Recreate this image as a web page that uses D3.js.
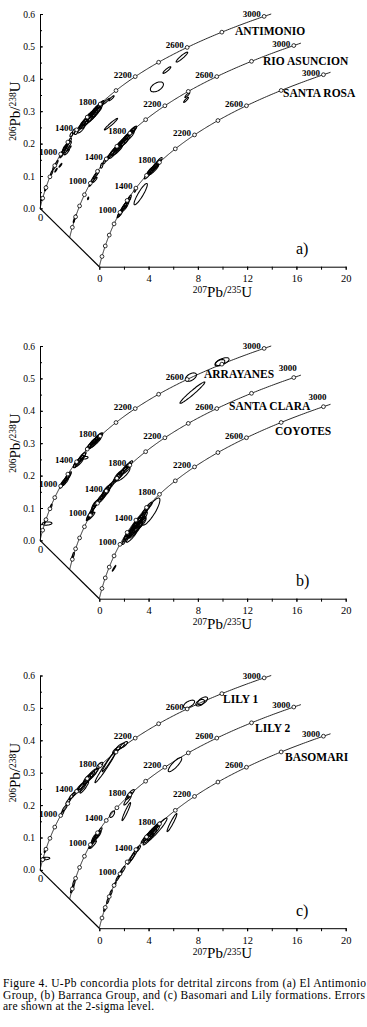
<!DOCTYPE html>
<html>
<head>
<meta charset="utf-8">
<script src="https://cdn.jsdelivr.net/npm/d3@7"></script>
<style>
  body { margin: 0; background: #fff; }
  svg { display: block; }
  .tick text { font-family: "Liberation Serif", "Times New Roman", serif; }
</style>
</head>
<body>
<div id="chart"></div>
<script>
// ---- data -------------------------------------------------------------
const panelLetters = ["a)", "b)", "c)"];
const panelSamples = [
  ["ANTIMONIO", "RIO ASUNCION", "SANTA ROSA"],
  ["ARRAYANES", "SANTA CLARA", "COYOTES"],
  ["LILY 1", "LILY 2", "BASOMARI"]
];
const markerAges = [200, 400, 600, 800, 1000, 1200, 1400, 1600, 1800, 2000, 2200, 2400, 2600, 2800, 3000];
const labelAges = [1000, 1400, 1800, 2200, 2600, 3000];
const xTicks = [0, 4, 8, 12, 16, 20];
const yTicks = [0, 0.1, 0.2, 0.3, 0.4, 0.5, 0.6];
const captionLines = [
  "Figure 4. U-Pb concordia plots for detrital zircons from (a) El Antimonio",
  "Group, (b) Barranca Group, and (c) Basomari and Lily formations. Errors",
  "are shown at the 2-sigma level."
];

// ellipses: [207Pb/235U, 206Pb/238U, 2s err 207/235, 2s err 206/238, rho]
const antimonio = [
  [3.25, 0.250, 0.22, 0.011, 0.85], [3.45, 0.258, 0.25, 0.012, 0.85], [3.55, 0.266, 0.30, 0.012, 0.88],
  [3.70, 0.272, 0.28, 0.012, 0.85], [3.90, 0.280, 0.35, 0.014, 0.90], [4.05, 0.288, 0.30, 0.012, 0.85],
  [4.20, 0.292, 0.40, 0.016, 0.90], [4.40, 0.300, 0.30, 0.013, 0.88], [4.55, 0.308, 0.35, 0.014, 0.90],
  [4.70, 0.312, 0.30, 0.012, 0.85], [4.85, 0.318, 0.28, 0.012, 0.85], [4.95, 0.322, 0.25, 0.011, 0.85],
  [4.10, 0.276, 0.45, 0.016, 0.92], [4.60, 0.298, 0.40, 0.015, 0.90], [5.35, 0.330, 0.30, 0.010, 0.95],
  [5.80, 0.340, 0.22, 0.008, 0.90], [2.75, 0.238, 0.12, 0.007, 0.60], [2.95, 0.236, 0.15, 0.008, 0.60],
  [2.55, 0.228, 0.12, 0.007, 0.60], [1.75, 0.165, 0.15, 0.009, 0.80], [1.95, 0.180, 0.18, 0.010, 0.85],
  [2.10, 0.190, 0.20, 0.011, 0.85], [2.25, 0.200, 0.18, 0.010, 0.85], [2.40, 0.208, 0.15, 0.009, 0.80],
  [2.19, 0.174, 0.20, 0.009, 0.90], [2.35, 0.185, 0.18, 0.008, 0.92], [0.95, 0.110, 0.10, 0.008, 0.80],
  [1.15, 0.128, 0.12, 0.009, 0.80], [1.35, 0.140, 0.12, 0.008, 0.85], [1.66, 0.133, 0.12, 0.006, 0.90],
  [1.30, 0.118, 0.10, 0.006, 0.90], [0.15, 0.030, 0.05, 0.006, 0.50], [0.45, 0.062, 0.08, 0.008, 0.60],
  [11.52, 0.467, 0.47, 0.0154, 0.93], [10.3, 0.427, 0.32, 0.0103, 0.90], [9.49, 0.375, 0.53, 0.0154, 0.50],
  [5.76, 0.260, 0.54, 0.018, 0.97], [3.60, 0.262, 0.35, 0.016, 0.80], [3.85, 0.272, 0.40, 0.017, 0.80],
  [4.25, 0.286, 0.45, 0.018, 0.82], [4.50, 0.296, 0.40, 0.017, 0.80], [4.75, 0.310, 0.35, 0.015, 0.80],
  [3.35, 0.246, 0.30, 0.013, 0.80], [4.00, 0.284, 0.25, 0.010, 0.70], [1.85, 0.172, 0.20, 0.011, 0.80],
  [2.00, 0.186, 0.15, 0.009, 0.70], [2.30, 0.195, 0.25, 0.012, 0.85]
];
const rioAsuncion = [
  [3.40, 0.258, 0.25, 0.011, 0.85], [3.60, 0.268, 0.30, 0.012, 0.88], [3.80, 0.276, 0.30, 0.012, 0.85],
  [4.00, 0.286, 0.35, 0.014, 0.90], [4.20, 0.294, 0.30, 0.012, 0.88], [4.40, 0.302, 0.35, 0.014, 0.90],
  [4.60, 0.310, 0.30, 0.013, 0.85], [4.80, 0.318, 0.30, 0.012, 0.88], [5.00, 0.326, 0.30, 0.012, 0.85],
  [5.20, 0.334, 0.25, 0.010, 0.85], [4.30, 0.290, 0.45, 0.016, 0.92], [3.90, 0.270, 0.40, 0.015, 0.90],
  [2.60, 0.222, 0.10, 0.008, 0.50], [2.85, 0.236, 0.15, 0.009, 0.80], [3.10, 0.246, 0.20, 0.010, 0.85],
  [1.70, 0.166, 0.12, 0.008, 0.80], [1.90, 0.180, 0.18, 0.010, 0.85], [2.10, 0.192, 0.20, 0.010, 0.85],
  [2.25, 0.200, 0.15, 0.008, 0.80], [2.05, 0.178, 0.18, 0.008, 0.90], [1.50, 0.121, 0.05, 0.004, 0.50],
  [0.45, 0.063, 0.08, 0.007, 0.70], [0.35, 0.052, 0.06, 0.006, 0.70], [9.55, 0.440, 0.20, 0.008, 0.90],
  [9.45, 0.425, 0.20, 0.008, 0.90], [3.50, 0.260, 0.35, 0.016, 0.80], [3.75, 0.270, 0.40, 0.017, 0.82],
  [4.10, 0.285, 0.40, 0.017, 0.82], [4.50, 0.300, 0.40, 0.017, 0.80], [4.90, 0.316, 0.35, 0.015, 0.80],
  [5.10, 0.330, 0.30, 0.012, 0.80]
];
const santaRosa = [
  [1.60, 0.160, 0.15, 0.009, 0.85], [1.75, 0.170, 0.18, 0.010, 0.85], [1.90, 0.180, 0.20, 0.011, 0.88],
  [2.05, 0.188, 0.20, 0.010, 0.85], [2.20, 0.196, 0.22, 0.011, 0.88], [2.35, 0.204, 0.20, 0.010, 0.85],
  [2.45, 0.212, 0.15, 0.009, 0.80], [2.00, 0.178, 0.25, 0.010, 0.92], [2.90, 0.237, 0.08, 0.007, 0.50],
  [3.36, 0.224, 0.54, 0.033, 0.90], [3.90, 0.282, 0.25, 0.011, 0.85], [4.10, 0.292, 0.30, 0.012, 0.88],
  [4.30, 0.300, 0.30, 0.012, 0.88], [4.50, 0.308, 0.30, 0.012, 0.85], [4.70, 0.318, 0.30, 0.012, 0.88],
  [4.85, 0.326, 0.25, 0.011, 0.85], [4.40, 0.298, 0.40, 0.015, 0.92], [1.70, 0.165, 0.20, 0.011, 0.80],
  [2.15, 0.190, 0.25, 0.012, 0.80], [4.20, 0.296, 0.35, 0.015, 0.82], [4.60, 0.312, 0.35, 0.015, 0.82]
];
const arrayanes = [
  [4.00, 0.290, 0.30, 0.012, 0.88], [4.20, 0.298, 0.35, 0.013, 0.90], [4.40, 0.306, 0.30, 0.012, 0.85],
  [4.60, 0.312, 0.40, 0.015, 0.90], [4.80, 0.320, 0.30, 0.012, 0.85], [4.50, 0.302, 0.45, 0.016, 0.92],
  [2.90, 0.235, 0.20, 0.010, 0.85], [3.10, 0.244, 0.25, 0.011, 0.85], [3.30, 0.252, 0.25, 0.011, 0.88],
  [3.50, 0.262, 0.25, 0.011, 0.85], [3.20, 0.240, 0.30, 0.012, 0.90], [3.65, 0.255, 0.25, 0.004, 0.30],
  [1.75, 0.170, 0.15, 0.009, 0.80], [1.95, 0.182, 0.20, 0.010, 0.85], [2.15, 0.192, 0.22, 0.011, 0.88],
  [2.35, 0.202, 0.20, 0.010, 0.85], [2.05, 0.180, 0.25, 0.011, 0.90], [0.57, 0.052, 0.40, 0.005, 0.20],
  [0.40, 0.060, 0.05, 0.008, 0.60], [0.90, 0.105, 0.08, 0.007, 0.70], [14.8, 0.552, 0.55, 0.012, 0.60],
  [14.6, 0.548, 0.40, 0.010, 0.50], [12.25, 0.504, 0.45, 0.013, 0.50], [12.37, 0.456, 1.01, 0.033, 0.97],
  [4.30, 0.300, 0.40, 0.017, 0.82], [4.70, 0.316, 0.35, 0.015, 0.80], [3.00, 0.238, 0.30, 0.014, 0.80],
  [3.40, 0.256, 0.30, 0.014, 0.80], [1.90, 0.178, 0.25, 0.012, 0.80], [2.25, 0.196, 0.25, 0.012, 0.80]
];
const santaClara = [
  [1.50, 0.160, 0.15, 0.009, 0.85], [1.70, 0.172, 0.20, 0.011, 0.88], [1.85, 0.185, 0.22, 0.012, 0.90],
  [2.00, 0.196, 0.22, 0.012, 0.88], [2.15, 0.206, 0.20, 0.011, 0.88], [1.75, 0.165, 0.30, 0.012, 0.92],
  [2.45, 0.215, 0.25, 0.012, 0.88], [2.70, 0.228, 0.25, 0.012, 0.88], [2.90, 0.240, 0.30, 0.014, 0.90],
  [3.10, 0.250, 0.30, 0.013, 0.88], [3.30, 0.258, 0.30, 0.013, 0.88], [2.85, 0.232, 0.40, 0.016, 0.92],
  [3.70, 0.275, 0.30, 0.012, 0.88], [3.90, 0.285, 0.35, 0.014, 0.90], [4.10, 0.292, 0.35, 0.014, 0.88],
  [4.40, 0.305, 0.35, 0.014, 0.90], [4.65, 0.318, 0.30, 0.012, 0.88], [4.85, 0.325, 0.25, 0.011, 0.85],
  [4.30, 0.295, 0.60, 0.022, 0.80], [0.20, 0.035, 0.06, 0.008, 0.60], [0.30, 0.045, 0.08, 0.008, 0.60],
  [1.65, 0.168, 0.25, 0.013, 0.80], [2.05, 0.200, 0.25, 0.013, 0.80], [2.60, 0.222, 0.35, 0.016, 0.82],
  [3.00, 0.245, 0.35, 0.016, 0.82], [4.00, 0.290, 0.40, 0.017, 0.82], [4.55, 0.310, 0.40, 0.016, 0.80]
];
const coyotes = [
  [2.10, 0.185, 0.20, 0.010, 0.85], [2.30, 0.196, 0.25, 0.012, 0.88], [2.50, 0.205, 0.30, 0.013, 0.90],
  [2.70, 0.215, 0.30, 0.013, 0.90], [2.90, 0.225, 0.35, 0.014, 0.90], [3.05, 0.235, 0.35, 0.015, 0.90],
  [3.20, 0.244, 0.30, 0.013, 0.88], [3.40, 0.252, 0.35, 0.015, 0.90], [3.60, 0.262, 0.30, 0.013, 0.88],
  [2.60, 0.190, 0.40, 0.016, 0.92], [2.85, 0.205, 0.45, 0.018, 0.92], [3.10, 0.220, 0.40, 0.016, 0.90],
  [3.35, 0.235, 0.45, 0.018, 0.90], [3.80, 0.275, 0.30, 0.012, 0.88], [4.00, 0.285, 0.30, 0.013, 0.88],
  [4.19, 0.269, 0.73, 0.042, 0.85], [2.00, 0.175, 0.15, 0.008, 0.80], [1.20, 0.094, 0.15, 0.009, 0.95],
  [2.40, 0.200, 0.40, 0.018, 0.85], [2.75, 0.210, 0.50, 0.020, 0.88], [3.00, 0.230, 0.45, 0.020, 0.85],
  [3.25, 0.240, 0.45, 0.020, 0.85], [3.50, 0.250, 0.40, 0.018, 0.85], [2.95, 0.215, 0.55, 0.022, 0.90],
  [3.30, 0.228, 0.50, 0.020, 0.90], [2.55, 0.200, 0.30, 0.012, 0.75]
];
const lily1 = [
  [12.1, 0.512, 0.45, 0.012, 0.60], [13.2, 0.522, 0.40, 0.012, 0.60], [13.0, 0.516, 0.35, 0.010, 0.50],
  [6.20, 0.370, 0.30, 0.010, 0.80], [6.50, 0.380, 0.35, 0.011, 0.80], [6.80, 0.386, 0.30, 0.010, 0.80],
  [5.35, 0.320, 0.89, 0.051, 0.98], [5.65, 0.338, 0.60, 0.035, 0.98], [4.85, 0.322, 0.25, 0.010, 0.70],
  [4.40, 0.300, 0.35, 0.014, 0.90], [4.10, 0.290, 0.35, 0.015, 0.90], [3.80, 0.278, 0.30, 0.013, 0.88],
  [3.50, 0.262, 0.35, 0.014, 0.90], [3.25, 0.255, 0.30, 0.013, 0.88], [3.60, 0.255, 0.35, 0.018, 0.92],
  [2.90, 0.240, 0.25, 0.011, 0.85], [2.60, 0.228, 0.25, 0.011, 0.85], [2.30, 0.212, 0.20, 0.010, 0.85],
  [2.00, 0.190, 0.20, 0.010, 0.85], [1.80, 0.175, 0.15, 0.009, 0.80], [0.45, 0.035, 0.35, 0.004, 0.30],
  [0.25, 0.033, 0.15, 0.006, 0.50], [0.40, 0.060, 0.06, 0.007, 0.60], [3.90, 0.282, 0.40, 0.017, 0.82],
  [4.25, 0.295, 0.40, 0.017, 0.82], [3.40, 0.256, 0.35, 0.016, 0.80]
];
const lily2 = [
  [8.55, 0.415, 0.55, 0.022, 0.85], [4.80, 0.318, 0.25, 0.011, 0.85], [4.95, 0.326, 0.30, 0.012, 0.85],
  [4.70, 0.305, 0.30, 0.015, 0.90], [4.60, 0.270, 0.35, 0.028, 0.95], [3.45, 0.262, 0.20, 0.010, 0.60],
  [1.70, 0.165, 0.15, 0.009, 0.85], [1.85, 0.175, 0.20, 0.011, 0.88], [2.00, 0.185, 0.25, 0.013, 0.90],
  [2.15, 0.192, 0.22, 0.012, 0.88], [2.30, 0.200, 0.20, 0.011, 0.88], [2.45, 0.210, 0.18, 0.010, 0.85],
  [1.90, 0.168, 0.28, 0.012, 0.92], [0.25, 0.035, 0.10, 0.008, 0.70], [0.35, 0.050, 0.10, 0.010, 0.70],
  [0.15, 0.025, 0.08, 0.006, 0.60], [2.05, 0.190, 0.25, 0.013, 0.80], [2.25, 0.196, 0.30, 0.014, 0.85]
];
const basomari = [
  [3.70, 0.275, 0.30, 0.012, 0.88], [3.90, 0.284, 0.35, 0.014, 0.90], [4.10, 0.292, 0.35, 0.014, 0.90],
  [4.30, 0.300, 0.40, 0.016, 0.90], [4.50, 0.308, 0.35, 0.014, 0.90], [4.70, 0.316, 0.30, 0.012, 0.88],
  [4.00, 0.275, 0.45, 0.018, 0.92], [4.70, 0.305, 0.80, 0.035, 0.95], [5.90, 0.326, 0.40, 0.028, 0.95],
  [2.85, 0.230, 0.35, 0.022, 0.95], [2.60, 0.215, 0.30, 0.018, 0.95], [3.15, 0.245, 0.20, 0.010, 0.85],
  [1.90, 0.180, 0.20, 0.011, 0.85], [1.70, 0.168, 0.15, 0.010, 0.85], [1.50, 0.155, 0.15, 0.009, 0.85],
  [1.25, 0.135, 0.12, 0.008, 0.85], [0.95, 0.110, 0.10, 0.008, 0.70], [0.70, 0.085, 0.10, 0.009, 0.70],
  [0.45, 0.060, 0.10, 0.008, 0.70], [4.20, 0.290, 0.45, 0.018, 0.85], [4.45, 0.300, 0.45, 0.018, 0.85],
  [3.95, 0.280, 0.40, 0.017, 0.82]
];
const panelData = [
  [antimonio, rioAsuncion, santaRosa],
  [arrayanes, santaClara, coyotes],
  [lily1, lily2, basomari]
];

// ---- layout -----------------------------------------------------------
const W = 367, H = 1027;
const panelTop = [0, 332, 661.5];
const origins = [[40, 208.4], [69.65, 237.55], [99.3, 266.7]];   // back, middle, front curve origins
const namePos = [
  [[235, 35], [263, 65], [283, 97]],
  [[204, 46], [229, 78], [275, 103]],
  [[223, 41.5], [255, 70.5], [285, 99.5]]
];
const serif = '"Liberation Serif", "Times New Roman", serif';

// concordia (decay constants, per Ma)
const L235 = 9.8485e-4, L238 = 1.55125e-4;
const r75 = t => Math.exp(L235 * t) - 1;
const r68 = t => Math.exp(L238 * t) - 1;

const x = d3.scaleLinear().domain([0, 20]).range([0, 246.4]);
const y = d3.scaleLinear().domain([0, 0.6]).range([0, -194.4]);

const svg = d3.select("#chart").append("svg")
  .attr("width", W).attr("height", H)
  .style("font-family", serif);
svg.append("rect").attr("width", W).attr("height", H).attr("fill", "#fff");

function ellipsePath(d) {
  const [a, b, ea, eb, rho] = d;
  const k = Math.sqrt(1 - rho * rho);
  const pts = d3.range(0, 2 * Math.PI, Math.PI / 24).map(t =>
    [x(a + ea * Math.cos(t)), y(b + eb * (rho * Math.cos(t) + k * Math.sin(t)))]);
  return d3.line().curve(d3.curveCardinalClosed)(pts);
}

function ratioLabel(sel, sup) {
  sel.append("tspan").attr("font-size", 9.5).attr("dy", -3.5).text(sup[0]);
  sel.append("tspan").attr("dy", 3.5).text("Pb/");
  sel.append("tspan").attr("font-size", 9.5).attr("dy", -3.5).text(sup[1]);
  sel.append("tspan").attr("dy", 3.5).text("U");
}

function drawPanel(p) {
  const g = svg.append("g").attr("transform", `translate(0,${panelTop[p]})`);
  const [ox0, oy0] = origins[0];
  const [ox2, oy2] = origins[2];

  // 1. y axis (belongs to the back curve)
  const yAx = d3.scaleLinear().domain([0, 0.6]).range([oy0, oy0 + y(0.6)]);
  g.append("g").attr("transform", `translate(${ox0},0)`)
    .call(d3.axisLeft(yAx).tickValues(d3.range(0, 0.6001, 0.05)).tickSize(-2).tickFormat("").tickSizeOuter(0))
    .call(s => s.selectAll("line,path").attr("stroke", "#000"));
  g.append("g").attr("transform", `translate(${ox0},0)`)
    .call(d3.axisLeft(yAx).tickValues(yTicks).tickSize(-3).tickPadding(5).tickFormat(d3.format(".1f")).tickSizeOuter(0))
    .call(s => s.select(".domain").remove())
    .call(s => s.selectAll("line").attr("stroke", "#000"))
    .call(s => s.selectAll("text").attr("font-size", 9.5).attr("font-family", "Liberation Sans, Arial, sans-serif").attr("fill", "#000"));

  // 2. x axis (belongs to the front curve)
  const xAx = d3.scaleLinear().domain([0, 20]).range([ox2, ox2 + x(20)]);
  g.append("g").attr("transform", `translate(0,${oy2})`)
    .call(d3.axisBottom(xAx).tickValues(d3.range(0, 20.01, 2)).tickSize(3).tickFormat("").tickSizeOuter(0))
    .call(s => s.selectAll("line,path").attr("stroke", "#000"));
  g.append("g").attr("transform", `translate(0,${oy2})`)
    .call(d3.axisBottom(xAx).tickValues(xTicks).tickSize(3).tickPadding(5).tickSizeOuter(0))
    .call(s => s.select(".domain").remove())
    .call(s => s.selectAll("line").attr("stroke", "#000"))
    .call(s => s.selectAll("text").attr("font-size", 10.5).attr("fill", "#000"));

  // diagonal baseline joining the curve origins
  g.append("line").attr("x1", ox0).attr("y1", oy0).attr("x2", ox2).attr("y2", oy2)
    .attr("stroke", "#000").attr("stroke-width", 1.2);
  g.append("text").attr("x", ox0 + 0.5).attr("y", oy0 + 12.5).attr("text-anchor", "middle")
    .attr("font-size", 10.5).text("0");

  // axis titles
  g.append("text").attr("x", 222.5).attr("y", oy2 + 30).attr("text-anchor", "middle")
    .attr("font-size", 15).call(ratioLabel, ["207", "235"]);
  g.append("text").attr("transform", `translate(19.5,${(oy0 + oy0 + y(0.6)) / 2}) rotate(-90)`)
    .attr("text-anchor", "middle").attr("font-size", 15).call(ratioLabel, ["206", "238"]);

  // 3. three concordia curves with their ellipses
  const line = d3.line().x(t => x(r75(t))).y(t => y(r68(t)));
  origins.forEach(([ox, oy], c) => {
    const cg = g.append("g").attr("transform", `translate(${ox},${oy})`);
    cg.append("path").attr("d", line(d3.range(0, 3031, 10)))
      .attr("fill", "none").attr("stroke", "#111").attr("stroke-width", 0.9);
    cg.selectAll(".ell").data(panelData[p][c]).join("path")
      .attr("class", "ell").attr("d", ellipsePath)
      .attr("fill", "none").attr("stroke", "#000").attr("stroke-width", 1.05);
    cg.selectAll(".mk").data(markerAges).join("circle")
      .attr("class", "mk").attr("cx", t => x(r75(t))).attr("cy", t => y(r68(t)))
      .attr("r", 1.9).attr("fill", "#fff").attr("stroke", "#000").attr("stroke-width", 0.8);
    const raised = p === 1 && c > 0;
    cg.selectAll(".age").data(labelAges).join("text")
      .attr("class", "age")
      .attr("x", t => x(r75(t)) + (raised && t === 3000 ? 3 : -3.5))
      .attr("y", t => y(r68(t)) + (raised && t === 3000 ? -7 : 1))
      .attr("text-anchor", "end").attr("font-size", 9).attr("font-weight", "bold")
      .text(t => t);
    g.append("text").attr("x", namePos[p][c][0]).attr("y", namePos[p][c][1])
      .attr("font-size", 11.5).attr("font-weight", "bold").text(panelSamples[p][c]);
  });

  g.append("text").attr("x", 296).attr("y", 254).attr("font-size", 16).text(panelLetters[p]);
}

[0, 1, 2].forEach(drawPanel);

// caption
svg.selectAll(".cap").data(captionLines).join("text")
  .attr("class", "cap").attr("x", 3).attr("y", (d, i) => 987 + i * 11.7)
  .attr("font-size", 11.5)
  .attr("textLength", (d, i) => [363, 362, 151][i]).attr("lengthAdjust", "spacing")
  .text(d => d);
</script>
</body>
</html>
